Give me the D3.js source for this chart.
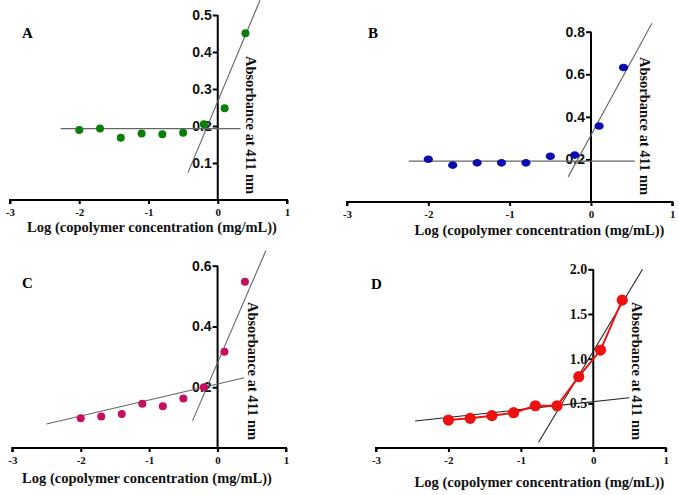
<!DOCTYPE html>
<html><head><meta charset="utf-8">
<script src="https://cdn.jsdelivr.net/npm/d3@7"></script>
<style>body{margin:0;background:#fff}svg{display:block}</style>
</head><body>
<svg id="c" width="679" height="495"></svg>
<script>
// ---- data ----
const logConc = [-2, -1.7, -1.4, -1.1, -0.8, -0.5, -0.2, 0.1, 0.4];
const absA = [0.189, 0.193, 0.168, 0.180, 0.178, 0.182, 0.205, 0.248, 0.451];
const absB = [0.201, 0.173, 0.184, 0.184, 0.184, 0.215, 0.220, 0.357, 0.632];
const absC = [0.098, 0.104, 0.112, 0.146, 0.137, 0.163, 0.200, 0.317, 0.547];
const absD = [0.313, 0.332, 0.362, 0.395, 0.473, 0.473, 0.798, 1.096, 1.655];
// fit lines: [[x0,y0],[x1,y1]]
const fitA = [[[-2.27, 0.193], [0.33, 0.193]], [[-0.43, 0.074], [0.61, 0.54]]];
const fitB = [[[-2.24, 0.192], [0.54, 0.192]], [[-0.28, 0.118], [0.75, 0.84]]];
const fitC = [[[-2.5, 0.079], [0.39, 0.231]], [[-0.365, 0.09], [0.706, 0.65]]];
const fitD = [[[-2.46, 0.302], [0.497, 0.563]], [[-0.755, 0.064], [0.68, 2.0]]];
const xTicks = [-3, -2, -1, 0, 1];
const yTicksA = [0.1, 0.2, 0.3, 0.4, 0.5];
const yTicksB = [0.2, 0.4, 0.6, 0.8];
const yTicksC = [0.2, 0.4, 0.6];
const yTicksD = [0.5, 1.0, 1.5, 2.0];
const panelLetters = ["A", "B", "C", "D"];
const xTitle = "Log (copolymer concentration (mg/mL))";
const yTitle = "Absorbance at 411 nm";

const panels = [
  {letter: panelLetters[0], vals: absA, fits: fitA, yTicks: yTicksA, yMax: 0.5,
   xr: [10, 287], yr: [200, 15], color: "#0b7d0b", r: [4, 4], fitColor: "#666", connect: false,
   yFont: "'Liberation Sans', Arial, sans-serif", letterPos: [22, 38],
   xTitlePos: [152, 232], yTitlePos: [28, 125]},
  {letter: panelLetters[1], vals: absB, fits: fitB, yTicks: yTicksB, yMax: 0.8,
   xr: [347, 672.3], yr: [202, 31.7], color: "#0b0bb0", r: [4.6, 3.8], fitColor: "#666", connect: false,
   yFont: "'Liberation Sans', Arial, sans-serif", letterPos: [368, 38],
   xTitlePos: [539.5, 235], yTitlePos: [49, 126]},
  {letter: panelLetters[2], vals: absC, fits: fitC, yTicks: yTicksC, yMax: 0.6,
   xr: [12.3, 286], yr: [448, 265.7], color: "#c4105e", r: [4, 4], fitColor: "#666", connect: false,
   yFont: "'Liberation Sans', Arial, sans-serif", letterPos: [22, 288],
   xTitlePos: [147, 483], yTitlePos: [30, 371]},
  {letter: panelLetters[3], vals: absD, fits: fitD, yTicks: yTicksD, yMax: 2.0,
   xr: [376, 665.7], yr: [448, 269.3], color: "#ee1111", r: [5.6, 5.6], fitColor: "#222", connect: true,
   yFont: "'Liberation Serif', 'Times New Roman', serif", letterPos: [371, 289],
   xTitlePos: [539.5, 487], yTitlePos: [39, 371]}
];

const svg = d3.select("#c");
const serif = "'Liberation Serif', 'Times New Roman', serif";
const fmtX = d => String(d);

panels.forEach(p => {
  const x = d3.scaleLinear().domain([-3, 1]).range(p.xr);
  const y = d3.scaleLinear().domain([0, p.yMax]).range(p.yr);
  const g = svg.append("g");

  // x axis
  const xa = g.append("g").attr("transform", `translate(0,${y(0)})`)
    .call(d3.axisBottom(x).tickValues(xTicks).tickSize(4).tickPadding(4).tickFormat(fmtX));
  xa.select(".domain").attr("stroke", "#000").attr("stroke-width", 2).attr("d", `M${x(-3)},4V0H${x(1)}V4`);
  xa.selectAll(".tick line").attr("stroke", "#000").attr("stroke-width", 2);
  xa.selectAll(".tick text").attr("font-family", serif).attr("font-weight", "bold").attr("font-size", 11).attr("fill", "#111");

  // y axis at x=0
  const ya = g.append("g").attr("transform", `translate(${x(0)},0)`)
    .call(d3.axisLeft(y).tickValues(p.yTicks).tickSize(5).tickPadding(1).tickFormat(d3.format(".1f")));
  ya.select(".domain").attr("stroke", "#000").attr("stroke-width", 2).attr("d", `M0,${y(p.yMax)}V${y(0)}`);
  ya.selectAll(".tick line").attr("stroke", "#000").attr("stroke-width", 2);
  ya.selectAll(".tick text").attr("font-family", p.yFont).attr("font-weight", "bold").attr("font-size", 14).attr("fill", "#111");

  // fit lines
  p.fits.forEach(f => {
    g.append("line")
      .attr("x1", x(f[0][0])).attr("y1", y(f[0][1]))
      .attr("x2", x(f[1][0])).attr("y2", y(f[1][1]))
      .attr("stroke", p.fitColor).attr("stroke-width", 1.1);
  });

  const pts = logConc.map((c, i) => [c, p.vals[i]]);
  if (p.connect) {
    g.append("path").datum(pts)
      .attr("d", d3.line().x(d => x(d[0])).y(d => y(d[1])))
      .attr("fill", "none").attr("stroke", p.color).attr("stroke-width", 2);
  }
  g.selectAll("ellipse.pt").data(pts).enter().append("ellipse")
    .attr("cx", d => x(d[0])).attr("cy", d => y(d[1]))
    .attr("rx", p.r[0]).attr("ry", p.r[1]).attr("fill", p.color);

  // panel letter
  g.append("text").attr("x", p.letterPos[0]).attr("y", p.letterPos[1])
    .attr("font-family", serif).attr("font-weight", "bold").attr("font-size", 15).text(p.letter);

  // x title
  g.append("text").attr("x", p.xTitlePos[0]).attr("y", p.xTitlePos[1])
    .attr("text-anchor", "middle").attr("font-family", serif).attr("font-weight", "bold")
    .attr("font-size", 14.5).attr("fill", "#111").text(xTitle);

  // y title (rotated, reading downward)
  g.append("text").attr("transform", `translate(${x(0) + p.yTitlePos[0]},${p.yTitlePos[1]}) rotate(90)`)
    .attr("text-anchor", "middle").attr("font-family", serif).attr("font-weight", "bold")
    .attr("font-size", 14.5).attr("fill", "#111").text(yTitle);
});
</script>
</body></html>
